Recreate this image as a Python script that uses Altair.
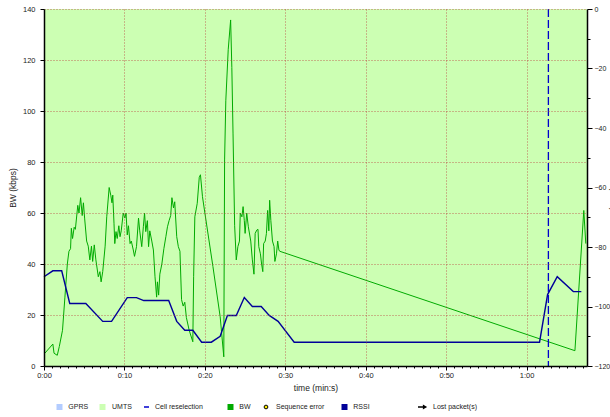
import altair as alt
import pandas as pd

FONT = "Liberation Sans"
TEXT = "#222222"
GRID = "#b83c3c"

# Throughput trace: elapsed seconds and bandwidth (kbps)
bw_time = [
    0.1, 1.1, 1.25, 1.65, 1.9, 2.3, 2.6, 2.9, 3.1, 3.3, 3.4, 3.55, 3.75, 3.9,
    4.2, 4.35, 4.55, 4.75, 4.9, 5.05, 5.3, 5.5, 5.7, 5.9, 6.05, 6.25, 6.45,
    6.75, 6.95, 7.1, 7.3, 7.6, 7.8, 8.1, 8.3, 8.45, 8.55, 8.7, 8.8, 8.95,
    9.1, 9.3, 9.45, 9.6, 9.85, 10.05, 10.2, 10.35, 10.5, 10.7, 10.85, 11.1,
    11.25, 11.5, 11.75, 11.9, 12.15, 12.35, 12.5, 12.65, 12.85, 13.0, 13.15,
    13.4, 13.6, 13.8, 13.9, 14.0, 14.1, 14.25, 14.4, 14.65, 14.9, 15.15,
    15.35, 15.55, 15.75, 15.9, 16.1, 16.25, 16.5, 16.7, 16.9, 17.1, 17.3,
    17.5, 17.7, 18.05, 18.5, 18.6, 18.75, 19.05, 19.3, 19.45, 19.7, 20.0,
    21.0, 21.9, 22.35, 22.45, 22.6, 22.9, 23.2, 23.35, 23.5, 23.7, 23.9,
    24.1, 24.3, 24.4, 24.6, 24.75, 24.9, 25.0, 25.2, 25.4, 25.7, 25.9, 26.1,
    26.25, 26.45, 26.6, 26.7, 26.9, 27.05, 27.2, 27.3, 27.5, 27.65, 27.8,
    27.95, 28.05, 28.2, 28.4, 28.6, 28.7, 28.9, 29.05, 29.2, 29.3, 66.0,
    67.1, 67.35,
]
bw_kbps = [
    5, 8.6, 5, 4.2, 7.6, 14, 27, 40, 45, 46, 54, 50, 54.4, 53.6,
    63, 60, 66, 59, 64, 58, 49, 47, 41.6, 47, 41, 47.5, 41.6,
    35, 37, 33, 37, 47, 58.5, 70, 67, 64, 67, 56, 48, 52.7,
    50, 55, 50.7, 53, 60, 58, 60, 51.4, 55, 48, 49, 45.5,
    43, 46.8, 58, 53, 46.8, 54.6, 60, 52.7, 57, 46.8, 53,
    49, 45.5, 35, 31, 27, 33, 27.8, 36, 40, 46, 50.7,
    54.6, 57, 59, 66, 62, 64.4, 50.7, 46.8, 45, 26, 23.5,
    25, 19, 14, 9.5, 35, 58.5, 63.8, 74, 75, 66.4, 60,
    39, 19.3, 3.6, 80.8, 104, 124, 135.7, 117, 91, 55, 41.6,
    46.8, 49, 60, 58.5, 62.5, 57, 52, 60, 54.6, 49, 41.6, 36,
    52, 53.3, 53.6, 46.8, 44, 40, 37, 48, 49, 52, 61,
    53, 65, 57, 49, 46.8, 41, 44, 49, 45.5, 45, 6,
    61, 48,
]

# Received signal strength trace: elapsed seconds and dBm
rssi_time = [
    0.0, 1.1, 2.2, 3.2, 5.2, 7.3, 8.4, 10.35, 11.5, 12.4, 15.5, 16.5, 17.5,
    18.5, 19.6, 20.8, 21.9, 22.8, 23.9, 24.9, 25.9, 27.0, 28.0, 29.1, 31.1,
    61.6, 62.6, 63.8, 65.8, 66.8,
]
rssi_dbm = [
    -90, -88, -88, -99, -99, -105, -105, -97, -97, -98, -98, -105, -108,
    -108, -112, -112, -110, -103, -103, -97, -100, -100, -103, -105, -112,
    -112, -96, -90, -95, -95,
]

# Radio access technology in use
net_type = ["UMTS"]
net_start = [0.0]
net_end = [67.5]

# Cell reselection events (seconds)
reselection_time = [62.7]

W, H = 543, 357
T_MAX = 67.5

bw_df = pd.DataFrame({"t": bw_time, "bw": bw_kbps})
rssi_df = pd.DataFrame({"t": rssi_time, "rssi": rssi_dbm})
net_df = pd.DataFrame({"net": net_type, "start": net_start, "end": net_end})
resel_df = pd.DataFrame({"t": reselection_time})

major10 = "datum.value % 10 == 0"

x_axis = alt.Axis(
    values=list(range(0, 68)),
    labelExpr=(
        f"{major10} ? floor(datum.value / 60) + ':' + "
        "(datum.value % 60 < 10 ? '0' : '') + (datum.value % 60) : ''"
    ),
    labelOverlap=False,
    labelFlush=False,
    labelBound=False,
    labelFont=FONT,
    labelFontSize=7.5,
    labelColor=TEXT,
    labelPadding=1.5,
    tickColor="black",
    tickSize={"condition": {"test": major10, "value": 4}, "value": 2},
    domainColor="black",
    domainWidth=1.5,
    grid=True,
    gridColor=GRID,
    gridDash=[1, 2],
    gridOpacity={"condition": {"test": f"{major10} && datum.value > 0", "value": 0.75}, "value": 0},
    title="time (min:s)",
    titleFont=FONT,
    titleFontSize=8.5,
    titleFontWeight="normal",
    titleColor=TEXT,
    titleY=21,
    titleBaseline="middle",
    zindex=1,
)
x_scale = alt.Scale(domain=[0, T_MAX], nice=False, zero=False)
x_enc = alt.X("t:Q", axis=x_axis, scale=x_scale)

net_colors = alt.Scale(domain=["GPRS", "UMTS"], range=["#b3ccff", "#ccffb3"])
network = alt.Chart(net_df).mark_rect().encode(
    x=alt.X("start:Q", axis=x_axis, scale=x_scale),
    x2="end:Q",
    color=alt.Color("net:N", scale=net_colors, legend=None),
)

bw_line = alt.Chart(bw_df).mark_line(color="#00aa00", strokeWidth=1).encode(
    x=x_enc,
    y=alt.Y(
        "bw:Q",
        scale=alt.Scale(domain=[0, 140], nice=False),
        axis=alt.Axis(
            orient="left",
            values=list(range(0, 141, 20)),
            labelFont=FONT,
            labelFontSize=7.5,
            labelColor=TEXT,
            labelPadding=5,
            tickColor="black",
            tickSize=4,
            domainColor="black",
            domainWidth=1.5,
            grid=True,
            gridColor=GRID,
            gridDash=[1, 2],
            gridOpacity=0.75,
            title="BW (kbps)",
            titleFont=FONT,
            titleFontSize=8.5,
            titleFontWeight="normal",
            titleColor=TEXT,
            titleAngle=270,
            titleBaseline="bottom",
            titleX=-27,
            titleY=H / 2,
            zindex=1,
        ),
    ),
)

rssi_line = alt.Chart(rssi_df).mark_line(color="#000099", strokeWidth=1.4).encode(
    x=x_enc,
    y=alt.Y(
        "rssi:Q",
        scale=alt.Scale(domain=[-120, 0], nice=False),
        axis=alt.Axis(
            orient="right",
            values=list(range(-120, 1, 10)),
            labelExpr="datum.value % 20 == 0 ? datum.label : ''",
            labelOverlap=False,
            labelFont=FONT,
            labelFontSize=7,
            labelColor=TEXT,
            labelPadding=2,
            tickColor="black",
            tickSize={"condition": {"test": "datum.value % 20 == 0", "value": 5}, "value": 3},
            domainColor="black",
            domainWidth=1.5,
            grid=False,
            title="RSSI (dBm)",
            titleFont=FONT,
            titleFontSize=8.5,
            titleFontWeight="normal",
            titleColor=TEXT,
            titleAngle=90,
            titleBaseline="bottom",
            titleX=21,
            titleY=H / 2,
            zindex=1,
        ),
    ),
)

reselection = alt.Chart(resel_df).mark_rule(
    color="#0000cc", strokeWidth=1.3, strokeDash=[8, 3]
).encode(x=x_enc)

# Legend row under the x axis title
one = pd.DataFrame({"k": [0]})
LEG_Y = 398


def label(x, text):
    return alt.Chart(one).mark_text(
        align="left", baseline="middle", font=FONT, fontSize=7, color=TEXT
    ).encode(x=alt.value(x), y=alt.value(LEG_Y), text=alt.value(text))


def swatch(x, color):
    return alt.Chart(one).mark_square(size=36, color=color, opacity=1).encode(
        x=alt.value(x), y=alt.value(LEG_Y)
    )


legend = [
    swatch(15.5, "#b3ccff"), label(24.3, "GPRS"),
    swatch(58.5, "#ccffb3"), label(68, "UMTS"),
    alt.Chart(one).mark_rule(color="#0000cc", strokeWidth=1.5).encode(
        x=alt.value(100), x2=alt.value(105), y=alt.value(LEG_Y)
    ),
    label(111, "Cell reselection"),
    swatch(186.5, "#00aa00"), label(195.3, "BW"),
    alt.Chart(one).mark_point(
        shape="circle", filled=True, fill="#ffee00", stroke="black",
        strokeWidth=1, size=14, opacity=1
    ).encode(x=alt.value(222), y=alt.value(LEG_Y)),
    label(232, "Sequence error"),
    swatch(300.5, "#000099"), label(309.3, "RSSI"),
    alt.Chart(one).mark_rule(color="black", strokeWidth=1.5).encode(
        x=alt.value(374), x2=alt.value(380), y=alt.value(LEG_Y)
    ),
    alt.Chart(one).mark_point(
        shape="triangle-right", filled=True, color="black", size=24, opacity=1
    ).encode(x=alt.value(381), y=alt.value(LEG_Y)),
    label(389, "Lost packet(s)"),
]

chart = (
    alt.layer(network, bw_line, rssi_line, reselection, *legend)
    .resolve_scale(y="independent")
    .properties(
        width=W,
        height=H,
        autosize=alt.AutoSizeParams(type="none"),
        padding={"left": 44, "top": 9, "right": 23, "bottom": 51},
        background="white",
    )
    .configure_view(stroke=None)
)

chart.save("out.html", embed_options={"renderer": "svg", "actions": False})
